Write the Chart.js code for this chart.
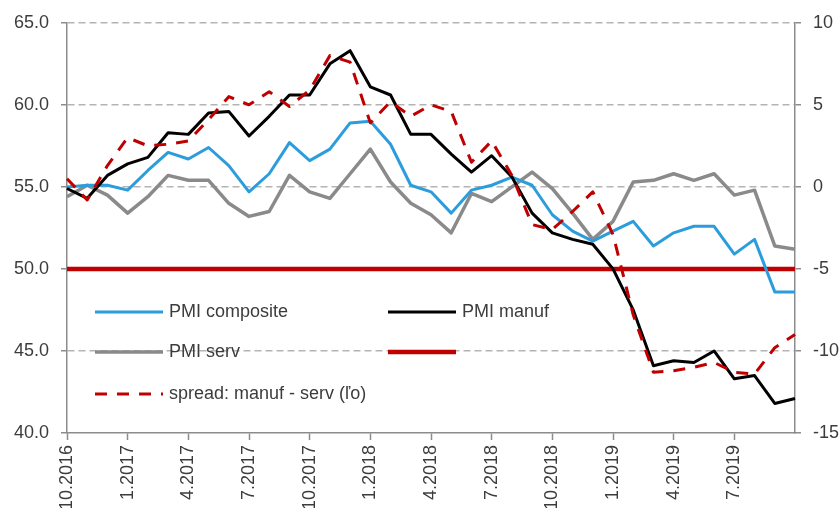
<!DOCTYPE html>
<html>
<head>
<meta charset="utf-8">
<script src="https://cdn.jsdelivr.net/npm/chart.js@4.4.1/dist/chart.umd.min.js"></script>
<style>
  body { margin: 0; background: #fff; }
  canvas { display: block; }
</style>
</head>
<body>
<canvas id="pmiChart" width="840" height="508"></canvas>
<script>
const months = [
    '10.2016', '11.2016', '12.2016',
    '1.2017', '2.2017', '3.2017', '4.2017', '5.2017', '6.2017',
    '7.2017', '8.2017', '9.2017', '10.2017', '11.2017', '12.2017',
    '1.2018', '2.2018', '3.2018', '4.2018', '5.2018', '6.2018',
    '7.2018', '8.2018', '9.2018', '10.2018', '11.2018', '12.2018',
    '1.2019', '2.2019', '3.2019', '4.2019', '5.2019', '6.2019',
    '7.2019', '8.2019', '9.2019', '10.2019'
];

const pmiComposite = [55.0, 55.1, 55.1, 54.8, 56.0, 57.1, 56.7, 57.4, 56.3, 54.7, 55.8, 57.7, 56.6,
    57.3, 58.9, 59.0, 57.6, 55.1, 54.7, 53.4, 54.8, 55.1, 55.6, 55.1, 53.3, 52.3, 51.7,
    52.3, 52.9, 51.4, 52.2, 52.6, 52.6, 50.9, 51.8, 48.6, 48.6];

const pmiManuf = [54.9, 54.3, 55.7, 56.4, 56.8, 58.3, 58.2, 59.5, 59.6, 58.1, 59.3, 60.6, 60.6,
    62.5, 63.3, 61.1, 60.6, 58.2, 58.2, 57.0, 55.9, 56.9, 55.6, 53.4, 52.2, 51.8, 51.5,
    50.0, 47.5, 44.1, 44.4, 44.3, 45.0, 43.3, 43.5, 41.8, 42.1];

const pmiServ = [54.4, 55.1, 54.5, 53.4, 54.4, 55.7, 55.4, 55.4, 54.0, 53.2, 53.5, 55.7, 54.7,
    54.3, 55.8, 57.3, 55.3, 54.0, 53.3, 52.2, 54.6, 54.1, 55.0, 55.9, 54.9, 53.4, 51.8,
    52.9, 55.3, 55.4, 55.8, 55.4, 55.8, 54.5, 54.8, 51.4, 51.2];

// right axis
const spread = [0.5, -0.8, 1.3, 3.0, 2.5, 2.6, 2.8, 4.1, 5.5, 5.0, 5.8, 4.9, 5.9,
    8.0, 7.6, 3.9, 5.2, 4.3, 5.0, 4.6, 1.5, 2.8, 0.7, -2.3, -2.6, -1.5, -0.3,
    -2.9, -7.8, -11.3, -11.2, -11.0, -10.7, -11.3, -11.4, -9.8, -9.0];

const threshold = 50;

const BLUE = '#2c9ddc';
const GRAY = '#8a8a8a';
const RED = '#c00000';
const AXIS = '#8c8c8c';
const GRID = '#b4b4b4';
const TEXT = '#3c3c3c';
const FONT = '"Liberation Sans", Arial, sans-serif';

Chart.defaults.font.family = FONT;
Chart.defaults.font.size = 18;
Chart.defaults.color = TEXT;

// every 3rd month gets a tick + label, not the last one
const showTick = i => i % 3 === 0 && i < months.length - 1;

// legend sits inside the plot, two columns
const legendSlots = [
    { dataset: 0, x: 95, y: 312 },
    { dataset: 1, x: 388, y: 312 },
    { dataset: 2, x: 95, y: 352 },
    { dataset: 3, x: 388, y: 352 },
    { dataset: 4, x: 95, y: 394 }
];
const legendLineLength = 68;

const insideLegend = {
    id: 'insideLegend',
    afterDraw(chart) {
        const ctx = chart.ctx;
        ctx.save();
        legendSlots.forEach(slot => {
            const ds = chart.data.datasets[slot.dataset];
            ctx.strokeStyle = ds.borderColor;
            ctx.lineWidth = ds.borderWidth;
            ctx.setLineDash(ds.borderDash || []);
            ctx.beginPath();
            ctx.moveTo(slot.x, slot.y);
            ctx.lineTo(slot.x + legendLineLength, slot.y);
            ctx.stroke();
            if (ds.label) {
                ctx.setLineDash([]);
                ctx.fillStyle = TEXT;
                ctx.font = '18px ' + FONT;
                ctx.textBaseline = 'middle';
                ctx.fillText(ds.label, slot.x + legendLineLength + 6, slot.y);
            }
        });
        ctx.restore();
    }
};

new Chart(document.getElementById('pmiChart'), {
    type: 'line',
    data: {
        labels: months,
        datasets: [
            { label: 'PMI composite', data: pmiComposite, borderColor: BLUE, borderWidth: 3, yAxisID: 'y', order: 3 },
            { label: 'PMI manuf', data: pmiManuf, borderColor: '#000000', borderWidth: 3, yAxisID: 'y', order: 2 },
            { label: 'PMI serv', data: pmiServ, borderColor: GRAY, borderWidth: 3.5, yAxisID: 'y', order: 4 },
            {
                label: '',
                data: [{ x: months[0], y: threshold }, { x: months[months.length - 1], y: threshold }],
                borderColor: RED, borderWidth: 4.5, yAxisID: 'y', order: 5
            },
            { label: 'spread: manuf - serv (ľo)', data: spread, borderColor: RED, borderWidth: 3, borderDash: [12, 10], yAxisID: 'y2', order: 1 }
        ]
    },
    options: {
        responsive: false,
        animation: false,
        devicePixelRatio: 1,
        layout: { padding: { top: 20, left: 0, right: 0, bottom: 0 } },
        elements: {
            point: { radius: 0 },
            line: { tension: 0, borderJoinStyle: 'round' }
        },
        plugins: {
            legend: { display: false },
            tooltip: { enabled: false }
        },
        scales: {
            x: {
                offset: false,
                grid: {
                    drawOnChartArea: false,
                    tickLength: 7,
                    tickWidth: 1.5,
                    tickColor: c => showTick(c.index) ? AXIS : 'rgba(0,0,0,0)'
                },
                border: { color: AXIS, width: 1.5 },
                ticks: {
                    autoSkip: false,
                    maxRotation: 90,
                    minRotation: 90,
                    padding: 5,
                    callback: (v, i) => showTick(i) ? months[i] : ''
                },
                afterFit: s => { s.height = 75; }
            },
            y: {
                position: 'left',
                min: 40,
                max: 65,
                ticks: { stepSize: 5, padding: 12, callback: v => v.toFixed(1) },
                grid: {
                    color: c => (c.tick && (c.tick.value === 40 || c.tick.value === 50)) ? 'rgba(0,0,0,0)' : GRID,
                    lineWidth: 1.5,
                    tickLength: 6,
                    tickColor: AXIS
                },
                border: { color: AXIS, width: 1.5, dash: [7, 4] },
                afterFit: s => { s.width = 67; }
            },
            y2: {
                position: 'right',
                min: -15,
                max: 10,
                ticks: { stepSize: 5, padding: 12 },
                grid: { drawOnChartArea: false, tickLength: 6, tickColor: AXIS, lineWidth: 1.5 },
                border: { color: AXIS, width: 1.5 },
                afterFit: s => { s.width = 45; }
            }
        }
    },
    plugins: [insideLegend]
});
</script>
</body>
</html>
